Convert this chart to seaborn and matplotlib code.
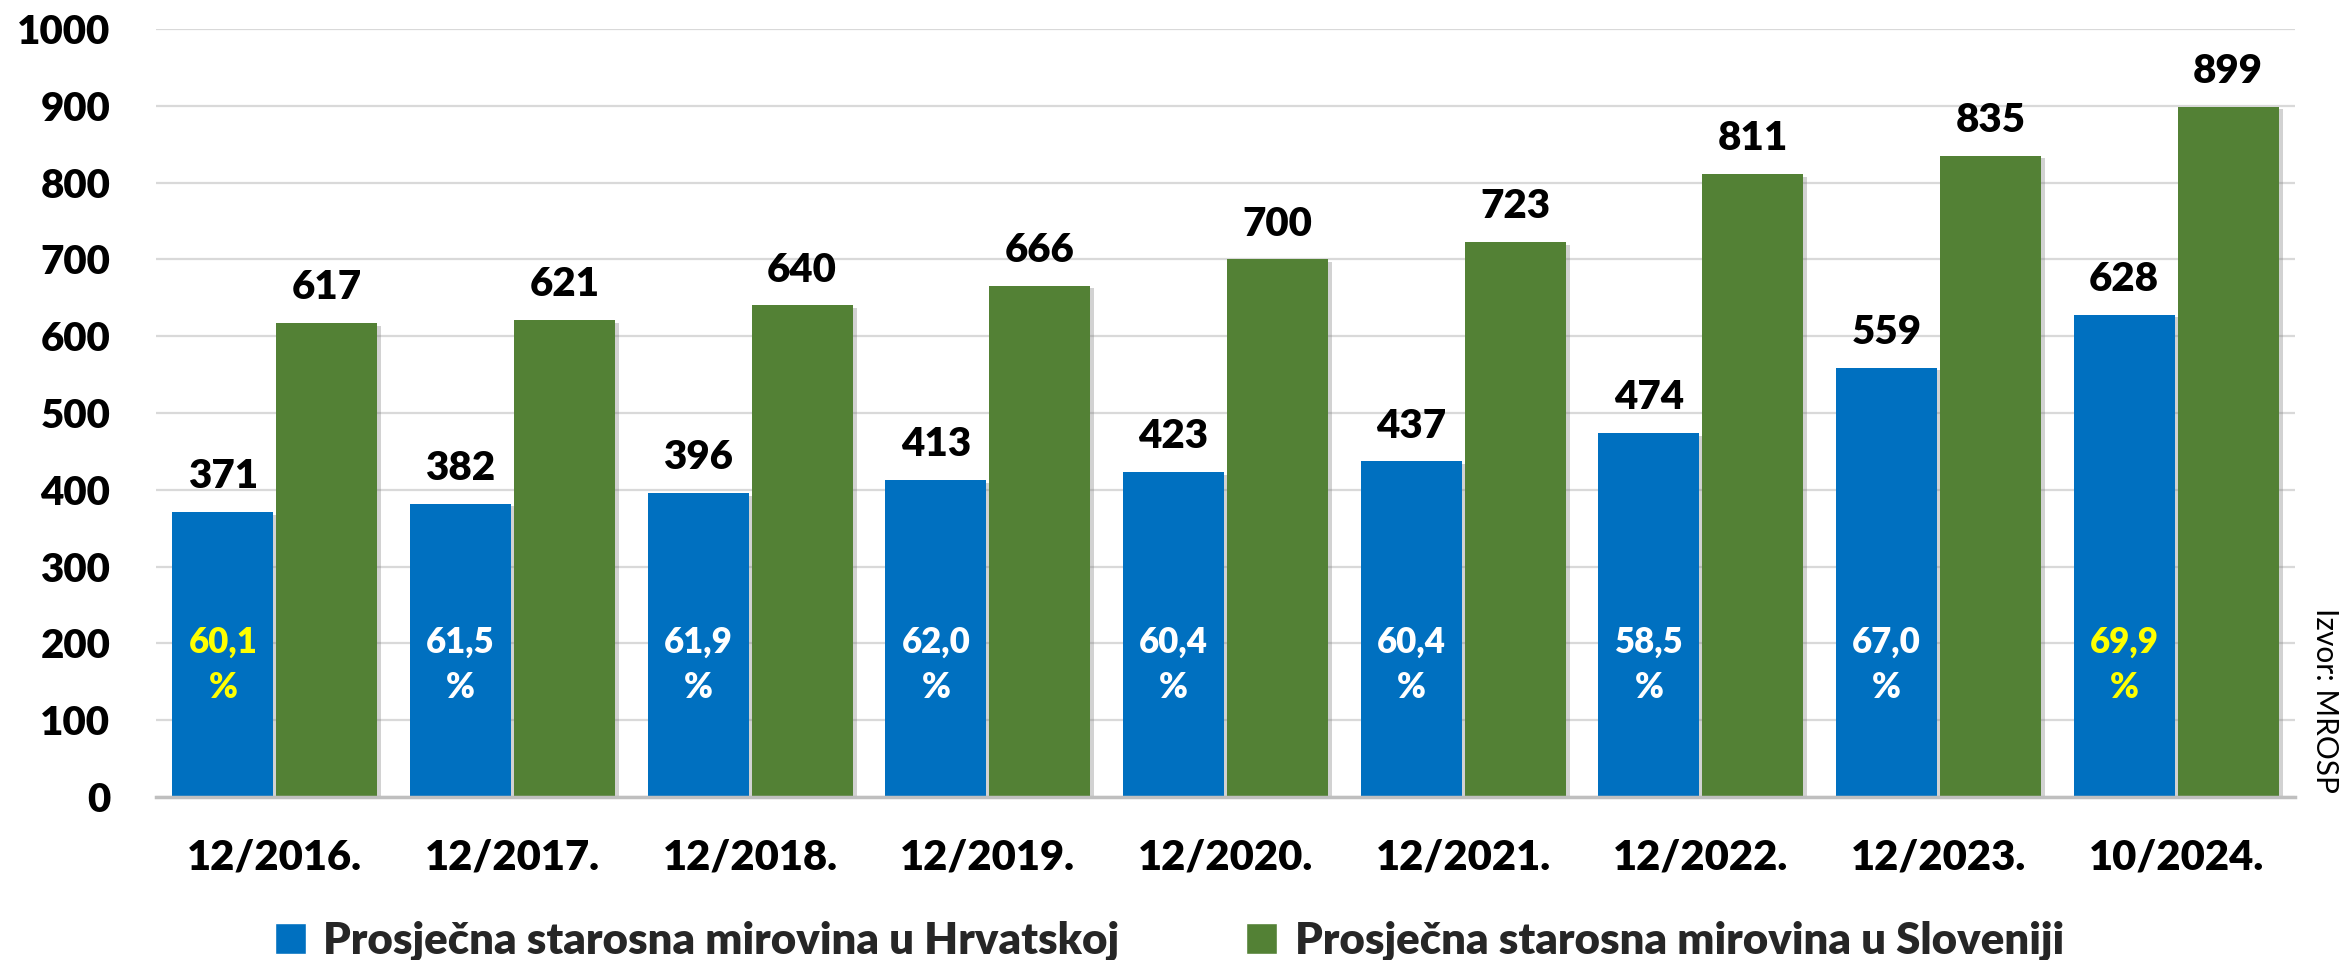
import matplotlib
matplotlib.use("Agg")
import matplotlib.pyplot as plt
import matplotlib.patheffects as pe
from matplotlib.patches import Patch
import seaborn as sns
import pandas as pd

categories = ["12/2016.", "12/2017.", "12/2018.", "12/2019.", "12/2020.",
              "12/2021.", "12/2022.", "12/2023.", "10/2024."]
croatia = [371, 382, 396, 413, 423, 437, 474, 559, 628]
slovenia = [617, 621, 640, 666, 700, 723, 811, 835, 899]
ratio_labels = ["60,1", "61,5", "61,9", "62,0", "60,4", "60,4", "58,5", "67,0", "69,9"]
ratio_highlight = [True, False, False, False, False, False, False, False, True]
series_names = ["Prosječna starosna mirovina u Hrvatskoj",
                "Prosječna starosna mirovina u Sloveniji"]
colors = ["#0070C0", "#538135"]
source_text = "Izvor: MROSP"

sns.set_theme(style="white")
plt.rcParams["font.family"] = ["Lato", "DejaVu Sans"]
W = "heavy"
plt.rcParams["font.weight"] = W

df = pd.DataFrame({
    "period": categories * 2,
    "value": croatia + slovenia,
    "series": [series_names[0]] * len(categories) + [series_names[1]] * len(categories),
})

fig = plt.figure(figsize=(23.39, 9.6), dpi=100)
ax = fig.add_axes([0.0667, 0.1698, 0.9145, 0.8])

sns.barplot(data=df, x="period", y="value", hue="series", palette=colors,
            width=0.875, gap=0.03, saturation=1, ax=ax, legend=False, errorbar=None)

shadow = [pe.SimplePatchShadow(offset=(3, -2), shadow_rgbFace="#808080", alpha=0.35), pe.Normal()]
for c in ax.containers:
    for p in c:
        p.set_path_effects(shadow)
        p.set_linewidth(0)

for c in ax.containers:
    ax.bar_label(c, fmt="%d", padding=12, fontsize=29, fontweight=W, color="black")

for p, lab, hl in zip(ax.containers[0], ratio_labels, ratio_highlight):
    ax.text(p.get_x() + p.get_width() / 2, 172, lab + "\n%", ha="center", va="center",
            fontsize=25, fontweight=W, color="#FFFF00" if hl else "white",
            linespacing=1.45)

ax.set_ylim(0, 1000)
ax.set_xlim(-0.5, len(categories) - 0.5)
ax.set_yticks(range(0, 1001, 100))
ax.yaxis.grid(True, color="#D9D9D9", linewidth=1.6)
ax.set_axisbelow(True)
for s in ["left", "right", "top"]:
    ax.spines[s].set_visible(False)
ax.spines["bottom"].set_color("#BFBFBF")
ax.spines["bottom"].set_linewidth(2.5)
ax.tick_params(axis="y", length=0, pad=33, labelsize=29)
ax.tick_params(axis="x", length=0, pad=30, labelsize=30)
for t in ax.get_yticklabels() + ax.get_xticklabels():
    t.set_fontweight(W)
    t.set_color("black")
ax.set_xlabel("")
ax.set_ylabel("")

handles = [Patch(facecolor=colors[0]), Patch(facecolor=colors[1])]
fig.legend(handles, series_names, loc="center", bbox_to_anchor=(0.5, 0.02), ncol=2,
           frameon=False, prop={"weight": W, "size": 31.5},
           handlelength=0.7, handleheight=0.7, handletextpad=0.4, columnspacing=2.9)

fig.text(0.994, 0.27, source_text, rotation=270, ha="center", va="center",
         fontsize=21.5, fontweight="normal", color="black")

fig.savefig("out.png", dpi=100, facecolor="white")
